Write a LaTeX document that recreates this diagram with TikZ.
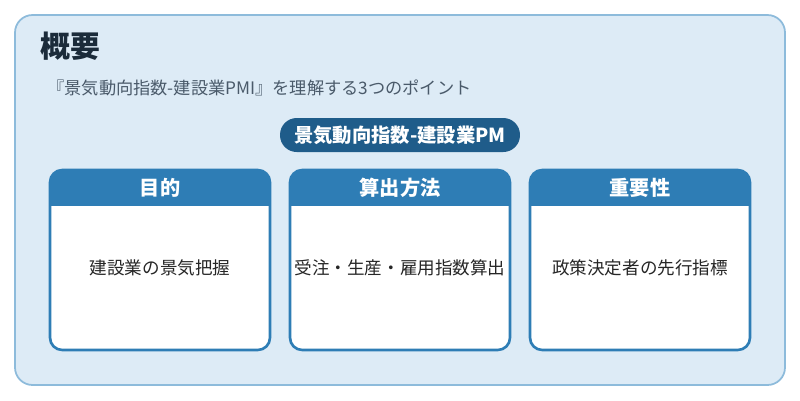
\documentclass[tikz,border=0pt]{standalone}
\usepackage{fontspec}
\setmainfont{Noto Sans CJK JP}
\usepackage{xcolor}
\definecolor{bgblue}{HTML}{DDEBF6}
\definecolor{bgline}{HTML}{8DBBDB}
\definecolor{pillblue}{HTML}{1F5C8A}
\definecolor{cardblue}{HTML}{2E7DB5}
\definecolor{titlecol}{HTML}{1B2B3A}
\definecolor{subcol}{HTML}{4A5A6A}
\tikzset{
  cardtitle/.style={text=white, font=\bfseries\fontsize{11.5}{14}\selectfont},
  cardtext/.style={text=black!85, font=\fontsize{10}{12}\selectfont},
}

\begin{document}
\begin{tikzpicture}[x=0.02cm, y=-0.02cm]
                \useasboundingbox (0,0) rectangle (800,400);
                %% background
                \draw[bgline, fill=bgblue, line width=1pt, rounded corners=10pt] (15,15) rectangle (785,385);
                \node[anchor=west, inner sep=0pt, text=titlecol, font=\bfseries\fontsize{17}{20}\selectfont] (title) at (40,46) {概要};
                \node[anchor=west, inner sep=0pt, text=subcol, font=\fontsize{9.8}{12}\selectfont] (sub) at (47,88) {『景気動向指数-建設業PMI』を理解する3つのポイント};

                %% pill
                \node[fill=pillblue, text=white, rounded corners=9.5pt, minimum width=4.8cm, minimum height=0.68cm, inner sep=0pt, font=\bfseries\fontsize{11}{14}\selectfont] (pill) at (400,135) {景気動向指数-建設業PM};

                %% cards
                \foreach \x/\head/\body/\nm in {50/目的/建設業の景気把握/goal, 290/算出方法/受注・生産・雇用指数算出/calc, 530/重要性/政策決定者の先行指標/imp}{
                  \fill[white, rounded corners=7pt] (\x,170) rectangle (\x+220,350);
                  \begin{scope}
                    \clip[rounded corners=7pt] (\x,170) rectangle (\x+220,350);
                    \fill[cardblue] (\x,170) rectangle (\x+220,206);
                  \end{scope}
                  \draw[cardblue, line width=1.5pt, rounded corners=7pt] (\x,170) rectangle (\x+220,350);
                  \node[cardtitle] (\nm-head) at (\x+110,188) {\head};
                  \node[cardtext] (\nm) at (\x+110,268) {\body};
                }
            \end{tikzpicture}
\end{document}
